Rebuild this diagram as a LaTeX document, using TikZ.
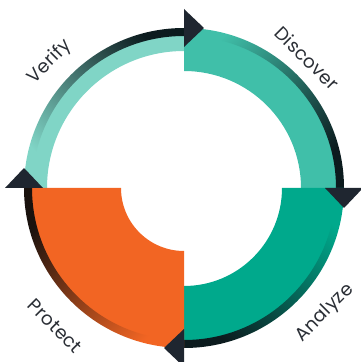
\documentclass[tikz,border=0pt]{standalone}
\usepackage{fontspec}
\setmainfont{Poppins}[LetterSpace=2]
\usetikzlibrary{positioning}
\usetikzlibrary{calc}
\definecolor{verifycol}{HTML}{80D5C6}
\definecolor{discovercol}{HTML}{40BFA9}
\definecolor{analyzecol}{HTML}{00A98C}
\definecolor{protectcol}{HTML}{F26523}
\definecolor{shaftdark}{HTML}{0C1B1E}
\definecolor{protectdark}{HTML}{1A120E}
\definecolor{tipcol}{HTML}{1F2630}
\definecolor{labelcol}{HTML}{2B2F36}
% #1 style, #2 start angle, #3 end angle, #4 inner radius, #5 outer radius
\newcommand{\ringpart}[5]{%
  \path[#1] (c) ++(#2:#5) arc[start angle=#2, end angle=#3, radius=#5]
    -- ($(c)+(#3:#4)$) arc[start angle=#3, end angle=#2, radius=#4] -- cycle;}

\begin{document}
\begin{tikzpicture}[x=1pt, y=1pt,
    label/.style={text=labelcol, font=\fontsize{18.5}{18.5}\selectfont, inner sep=0pt},
    arrowtip/.style={fill=tipcol}]
      \useasboundingbox (0,0) rectangle (360,362);
      \coordinate (c) at (184,174);

      \ringpart{fill=verifycol}{90}{180}{137}{153}
      \ringpart{fill=discovercol}{0}{90}{117}{153}
      \ringpart{fill=analyzecol}{-90}{0}{98}{153}
      \ringpart{fill=protectcol}{180}{270}{63}{153}

      \ringpart{top color=shaftdark, bottom color=verifycol, shading angle=-45}{90}{180}{152}{160}
      \ringpart{top color=shaftdark, bottom color=discovercol, shading angle=-135}{0}{90}{152}{160}
      \ringpart{top color=shaftdark, bottom color=analyzecol, shading angle=135}{-90}{0}{152}{160}
      \ringpart{top color=protectdark, bottom color=protectcol, shading angle=45}{180}{270}{152}{160}

      \foreach \a in {90,0,-90,180}
        \fill[arrowtip] ($(c)+(\a:141)$) -- ($(c)+(\a:179)$)
          -- ($(c)+(\a:160)+(\a-90:20)$) -- cycle;

      \node(verify) [label, rotate=45] at (50,300) {Verify};
      \node(discover) [label, rotate=-45] at (307,304) {Discover};
      \node(analyze) [label, rotate=45] at (325,49) {Analyze};
      \node(protect) [label, rotate=-45] at (55,36) {Protect};
    \end{tikzpicture}
\end{document}
